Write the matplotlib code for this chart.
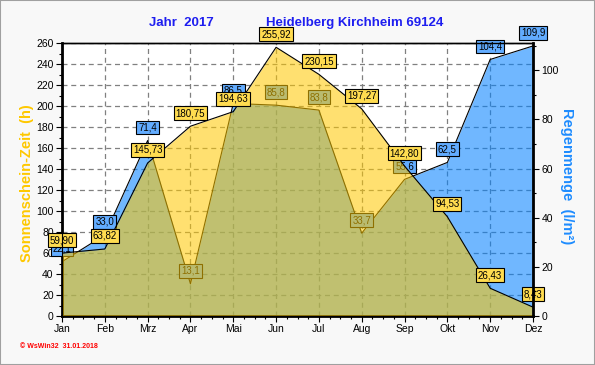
import matplotlib.pyplot as plt
from matplotlib.ticker import MultipleLocator, FixedLocator
from matplotlib.patches import Rectangle

plt.rcParams['font.family'] = ['Liberation Sans', 'DejaVu Sans']

months = ['Jan', 'Feb', 'Mrz', 'Apr', 'Mai', 'Jun', 'Jul', 'Aug', 'Sep', 'Okt', 'Nov', 'Dez']
sun_hours = [59.90, 63.82, 145.73, 180.75, 194.63, 255.92, 230.15, 197.27, 142.80, 94.53, 26.43, 8.43]
rain_mm = [22.1, 33.0, 71.4, 13.1, 86.5, 85.8, 83.8, 33.7, 55.6, 62.5, 104.4, 109.9]

x = list(range(len(months)))

fig = plt.figure(figsize=(5.95, 3.65), dpi=100)
fig.patch.set_facecolor('#f8f8f8')
fig.patches.append(Rectangle((0, 0), 1, 1, transform=fig.transFigure, fill=False,
                             edgecolor='#a0a0a0', linewidth=1.5))

ax = fig.add_axes([62 / 595, 49 / 365, 471 / 595, 273 / 365])
ax2 = ax.twinx()
ax.set_facecolor('white')

ax.set_xlim(0, 11)
ax.set_ylim(0, 260)
ax2.set_ylim(0, 111.1)

# grid
ax.set_axisbelow(True)
ax.grid(True, color='#808080', linestyle=(0, (4, 3)), linewidth=0.9)

# regen zuerst (unter der sonne)
ax.fill_between(x, 0, rain_mm, color=(0, 0.5, 1), alpha=0.56, linewidth=0,
                transform=ax2.transData, zorder=2)
ax.plot(x, rain_mm, color='black', linewidth=0.8, transform=ax2.transData, zorder=2.1)
for i, v in enumerate(rain_mm):
    ax.annotate(f'{v:.1f}'.replace('.', ','), xy=(i, v), xycoords=ax2.transData,
                xytext=(0, 13), textcoords='offset pixels', ha='center', va='center',
                fontsize=7, color='black', zorder=3, annotation_clip=False,
                bbox=dict(boxstyle='square,pad=0.2', facecolor='#62acff',
                          edgecolor='black', linewidth=0.8))

# sonne drueber, halbtransparent
ax.fill_between(x, 0, sun_hours, color=(1, 0.784, 0), alpha=0.56, linewidth=0, zorder=4)
ax.plot(x, sun_hours, color='black', linewidth=0.8, zorder=4.1)
for i, v in enumerate(sun_hours):
    ax.annotate(f'{v:.2f}'.replace('.', ','), xy=(i, v), xytext=(0, 13),
                textcoords='offset pixels', ha='center', va='center',
                fontsize=7, color='black', zorder=5, annotation_clip=False,
                bbox=dict(boxstyle='square,pad=0.2', facecolor='#ffdc50',
                          edgecolor='black', linewidth=0.8))

# achsen
ax.set_xticks(x)
ax.set_xticklabels(months)
ax.xaxis.set_minor_locator(FixedLocator([i + k / 4 for i in range(11) for k in (1, 2, 3)]))
ax.yaxis.set_major_locator(MultipleLocator(20))
ax.yaxis.set_minor_locator(MultipleLocator(10))
ax2.yaxis.set_major_locator(MultipleLocator(20))
ax2.yaxis.set_minor_locator(MultipleLocator(10))

ax.tick_params(axis='both', which='major', labelsize=7.5, length=4, width=0.8, pad=2)
ax.tick_params(axis='both', which='minor', length=2.5, width=0.8)
ax2.tick_params(axis='y', which='major', labelsize=7.5, length=4, width=0.8, pad=2)
ax2.tick_params(axis='y', which='minor', length=2.5, width=0.8)

for sp in ['left', 'bottom']:
    ax.spines[sp].set_linewidth(2)
ax.spines['top'].set_linewidth(1)
ax2.spines['right'].set_linewidth(2)
ax2.spines['top'].set_linewidth(1)

# beschriftung
fig.text(181 / 595, 1 - 23 / 365, 'Jahr  2017', ha='center', va='center',
         fontsize=9.5, fontweight='bold', color='#1e1ef0')
fig.text(355 / 595, 1 - 23 / 365, 'Heidelberg Kirchheim 69124', ha='center', va='center',
         fontsize=9.5, fontweight='bold', color='#1e1ef0')
fig.text(27 / 595, 1 - 183 / 365, 'Sonnenschein-Zeit  (h)', rotation=90, ha='center',
         va='center', fontsize=10.5, fontweight='bold', color='#ffc800')
fig.text(567 / 595, 1 - 176 / 365, 'Regenmenge  (l/m²)', rotation=270, ha='center',
         va='center', fontsize=10.5, fontweight='bold', color='#1e8cff')
fig.text(20 / 595, 1 - 347 / 365, '© WsWin32  31.01.2018', ha='left', va='center',
         fontsize=5, fontweight='bold', color='#ff0000')

fig.savefig('out.png', dpi=100, facecolor=fig.get_facecolor())
